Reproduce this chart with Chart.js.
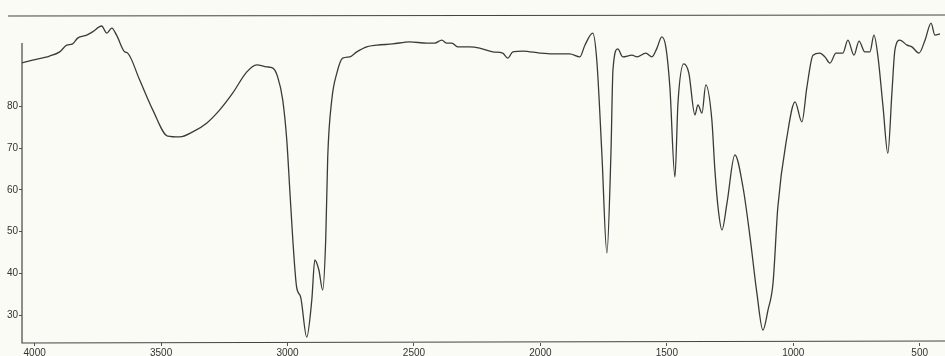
<!DOCTYPE html>
<html>
<head>
<meta charset="utf-8">
<script src="https://cdn.jsdelivr.net/npm/chart.js@4/dist/chart.umd.min.js"></script>
<style>
    html, body { margin: 0; padding: 0; background: #fbfbf5; }
    #wrap { width: 945px; height: 356px; position: relative; }
</style>
</head>
<body>
<div id="wrap"><canvas id="spectrum"></canvas></div>
<script>
// wavenumber (cm-1) and % transmittance
const wavenumbers = [4055, 4008, 3941, 3901, 3873, 3850, 3830, 3794, 3771, 3735, 3715, 3695, 3676, 3644, 3632, 3585, 3533, 3474, 3426, 3375,
    3320, 3268, 3217, 3161, 3122, 3082, 3058, 3039, 3019, 3003, 2991, 2979, 2964, 2948, 2924, 2904, 2892, 2876, 2861, 2849,
    2841, 2825, 2805, 2782, 2754, 2726, 2687, 2647, 2584, 2517, 2449, 2418, 2390, 2370, 2350, 2327, 2279, 2240, 2188, 2149,
    2129, 2109, 2069, 2002, 1951, 1884, 1844, 1824, 1793, 1777, 1757, 1737, 1721, 1713, 1694, 1674, 1638, 1618, 1583, 1559,
    1539, 1520, 1504, 1488, 1468, 1456, 1433, 1413, 1389, 1377, 1361, 1346, 1322, 1310, 1296, 1282, 1262, 1231, 1199, 1171,
    1144, 1120, 1100, 1080, 1061, 1025, 993, 966, 946, 922, 895, 875, 855, 831, 804, 784, 760, 740, 717, 697,
    681, 665, 645, 626, 610, 598, 578, 550, 531, 503, 479, 455, 440, 420];
const transmittance = [90.4, 91.1, 92.1, 93.1, 94.7, 95.0, 96.4, 97.1, 97.9, 99.3, 97.6, 98.8, 97.1, 93.1, 92.8, 86.4, 79.2, 72.9, 72.7, 73.9,
    76.0, 79.2, 83.2, 88.3, 90.0, 89.5, 89.2, 87.1, 81.6, 72.0, 60.0, 48.0, 36.7, 34.3, 24.7, 33.6, 43.2, 40.8, 36.0, 48.0,
    67.9, 81.6, 88.0, 91.6, 91.9, 93.1, 94.3, 94.7, 95.0, 95.5, 95.2, 95.2, 95.9, 95.2, 95.2, 94.3, 94.3, 94.0, 93.1, 92.8,
    91.6, 93.1, 93.3, 92.8, 92.6, 92.6, 91.9, 94.7, 97.6, 91.1, 68.8, 44.9, 68.8, 88.8, 93.8, 91.9, 92.3, 91.9, 92.8, 91.9,
    94.0, 96.7, 94.3, 84.7, 63.1, 80.8, 90.2, 88.0, 78.0, 80.4, 78.4, 85.2, 76.8, 64.8, 55.0, 50.4, 56.9, 68.4, 60.7, 48.7,
    35.3, 26.4, 31.2, 37.7, 55.9, 72.7, 81.1, 76.3, 84.7, 92.3, 92.8, 91.9, 90.4, 92.8, 92.8, 95.9, 92.3, 95.7, 93.1, 93.1,
    97.1, 91.9, 79.9, 68.8, 83.2, 93.6, 95.9, 94.7, 94.3, 92.8, 95.9, 100.0, 97.1, 97.4];
const xTicks = [4000, 3500, 3000, 2500, 2000, 1500, 1000, 500];
const yTicks = [30, 40, 50, 60, 70, 80];

const ink = '#3a3a3a';
const tickFont = { family: 'Liberation Sans Narrow, Arial Narrow, Liberation Sans, sans-serif', size: 10 };

// frame lines as on the chart paper: top rule, short left axis, bottom axis
const frameLines = {
    id: 'frameLines',
    beforeDatasetsDraw(chart) {
        const { ctx, chartArea, scales } = chart;
        ctx.save();
        ctx.strokeStyle = '#444';
        ctx.lineWidth = 1.2;
        ctx.beginPath();
        ctx.moveTo(8, chartArea.top);
        ctx.lineTo(chart.width, chartArea.top - 1);
        ctx.moveTo(chartArea.left, scales.y.getPixelForValue(95.2));
        ctx.lineTo(chartArea.left, chartArea.bottom);
        ctx.lineTo(chartArea.right, chartArea.bottom - 2);
        ctx.stroke();
        ctx.restore();
    },
};

new Chart(document.getElementById('spectrum'), {
    type: 'line',
    data: {
        datasets: [
            {
                data: wavenumbers.map((w, i) => ({ x: w, y: transmittance[i] })),
                borderColor: ink,
                borderWidth: 1.3,
                pointRadius: 0,
                cubicInterpolationMode: 'monotone',
                fill: false,
            },
        ],
    },
    options: {
        animation: false,
        responsive: true,
        maintainAspectRatio: false,
        layout: { padding: { top: 16, left: 0, right: 0, bottom: 0 } },
        scales: {
            x: {
                type: 'linear',
                reverse: true,
                min: 400,
                max: 4050,
                afterBuildTicks: (scale) => {
                    scale.ticks = xTicks.map((v) => ({ value: v }));
                },
                afterFit: (scale) => {
                    scale.height = 13;
                },
                grid: { display: true, drawOnChartArea: false, tickLength: 3, color: '#555' },
                border: { display: false },
                ticks: { font: tickFont, color: '#333', padding: 1, maxRotation: 0, autoSkip: false, callback: (v) => String(v) },
            },
            y: {
                min: 23.3,
                max: 101.7,
                afterBuildTicks: (scale) => {
                    scale.ticks = yTicks.map((v) => ({ value: v }));
                },
                afterFit: (scale) => {
                    scale.width = 22;
                },
                grid: { display: true, drawOnChartArea: false, tickLength: 3, color: '#555' },
                border: { display: false },
                ticks: { font: tickFont, color: '#333', padding: 1, callback: (v) => String(v) },
            },
        },
        plugins: {
            legend: { display: false },
            tooltip: { enabled: false },
        },
    },
    plugins: [frameLines],
});
</script>
</body>
</html>
